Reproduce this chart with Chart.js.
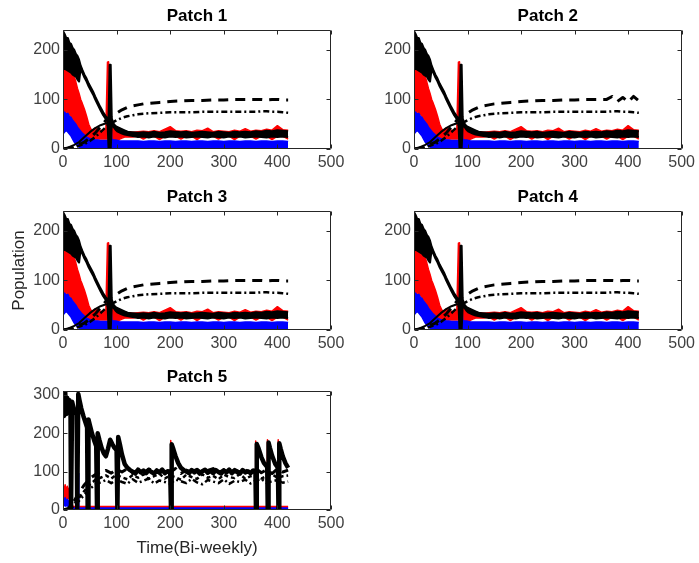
<!DOCTYPE html>
<html>
<head>
<meta charset="utf-8">
<script src="https://cdn.jsdelivr.net/npm/chart.js@4.4.0/dist/chart.umd.min.js"></script>
<style>
  html, body { margin: 0; padding: 0; background: #fff; }
  #fig { position: relative; width: 699px; height: 563px; overflow: hidden; background: #fff; }
  #fig canvas { position: absolute; }
</style>
</head>
<body>
<div id="fig">
  <canvas id="patch1" width="350" height="181" style="left:0px;top:0px"></canvas>
  <canvas id="patch2" width="349" height="181" style="left:350px;top:0px"></canvas>
  <canvas id="patch3" width="350" height="180" style="left:0px;top:181px"></canvas>
  <canvas id="patch4" width="349" height="180" style="left:350px;top:181px"></canvas>
  <canvas id="patch5" width="350" height="202" style="left:0px;top:361px"></canvas>
</div>
<script>
// ---------- Patches 1-4 (same dynamics) ----------
const timeA = [0,3,6,9,12,15,18,21,24,27,30,33,36,40,44,48,52,56,60,65,70,75,80,83,85,87,89,91,94,98,102,106,110,115,120,125,130,
  140,150,160,170,180,190,200,210,220,230,240,250,260,270,280,290,300,310,320,330,340,350,360,370,380,390,400,410,420];

const blackHiA = [238,232,224,224,214,212,204,200,192,188,180,168,160,150,142,132,124,116,106,95,84,74,66,62,62,170,170,62,52,46,42,40,38,36,35,34,34,
  33,34,33,35,33,34,36,35,34,35,33,34,35,34,33,35,34,33,35,34,35,34,36,35,37,36,38,37,36];
const blackLoA = [160,162,160,158,156,154,150,148,146,140,136,162,154,144,136,126,118,110,100,89,78,68,60,56,0,0,0,50,45,39,35,33,31,29,28,27,26,
  24,25,23,25,24,23,25,24,25,23,24,25,24,23,25,24,23,25,24,25,23,24,25,24,23,25,24,25,24];

const redHiA = [162,160,158,160,156,158,152,146,135,122,112,100,92,80,66,50,40,38,42,40,38,36,40,175,176,60,45,45,44,42,40,38,37,36,35,35,34,
  35,36,35,37,35,40,45,37,36,37,35,38,37,42,35,37,36,35,38,36,41,36,38,37,40,38,47,39,38];
const redLoA = [68,72,75,72,70,66,62,55,50,45,40,36,32,28,24,22,20,20,20,20,20,20,20,20,20,18,18,18,18,18,18,20,22,24,24,24,24,
  26,20,26,26,19,26,26,26,20,26,26,19,26,26,26,20,26,26,19,26,26,26,20,26,26,19,26,26,20];

const blueHiA = [76,74,70,72,66,64,58,54,50,44,40,36,32,28,24,22,20,19,18,18,17,17,17,17,17,50,55,20,18,18,17,16,16,16,16,16,16,
  16,15,16,16,15,16,16,15,16,16,15,16,16,15,16,16,15,16,16,15,16,16,15,16,16,15,16,16,15];
const blueLoA = [30,34,38,34,30,26,20,14,10,6,4,2,1,0,0,0,0,0,0,0,0,0,0,0,0,0,0,0,0,0,0,0,0,0,0,0,0,
  0,0,0,0,0,0,0,0,0,0,0,0,0,0,0,0,0,0,0,0,0,0,0,0,0,0,0,0,0];

const thinTimeA = [0,10,20,30,40,50,60,70,80,90,100,110,120,130,140];
const thinPopA  = [0,3,8,14,24,34,42,48,52,50,45,40,35,32,29];

const dashTimeA  = [0,20,40,50,60,70,80,90,100,110,120,130,140,150,160,180,200,220,240,260,280,300,320,340,360,370,380,390,400,410,420];
const dashUpperA = [0,4,14,22,32,45,58,66,72,79,84,87,89,91,92,94,96,97,98,98,99,99,100,100,100,100,99,100,100,99,99];
const dashUpperB = [0,4,14,22,32,45,58,66,72,79,84,87,89,91,92,94,96,97,98,98,99,99,100,100,100,106,96,104,95,106,97];
const dashDotA   = [0,3,10,16,24,34,44,52,58,63,66,68,70,71,72,73,74,74,74,75,75,75,75,75,75,76,76,75,75,74,73];

// ---------- Patch 5 ----------
const blackTime5 = [0,2,4,6,8,10,12,14,15,16.5,17,20,23,25.5,26.5,27.5,28.5,31,34,38,42,45,46,47,47.5,50,54,58,62,63.5,64.5,65,68,72,76,80,84,88,92,96,100,
  101.5,102.5,103,106,110,115,120,125,130,
  135,140,145,150,155,160,165,170,175,180,185,190,195,200,
  201.5,202.5,203,206,210,215,220,225,230,
  235,240,245,250,255,260,265,270,275,280,285,290,295,300,305,310,315,320,325,330,335,340,345,350,355,359,
  360,361,361.5,365,370,375,381,
  382,383,383.5,386,390,396,401,
  402,403,403.5,406,410,415,420];
const blackPop5 = [305,245,310,250,292,255,286,262,0,0,282,265,255,248,0,0,302,285,265,245,228,215,0,0,236,222,200,182,166,0,0,200,182,162,148,140,160,183,172,162,156,
  0,0,190,172,145,120,110,104,100,
  95,105,98,103,96,104,99,95,103,98,105,96,101,99,
  0,0,171,158,140,122,110,104,100,
  96,104,98,103,95,101,105,97,102,96,104,99,95,103,98,105,96,102,99,95,104,98,101,96,103,100,
  0,0,172,160,138,122,112,
  0,0,176,162,142,120,110,
  0,0,174,160,140,122,110];

const red5Time = [0,2,4,6,8,10,12,14,16,18,20,43.5,44.5,46.5,62,63,65,100,101,103,200,201,203,358.5,359.5,361.5,380.5,381.5,383.5,400.5,401.5,403.5,420];
const red5Hi   = [68,52,66,48,62,46,58,40,22,11,9,9,222,9,9,192,9,9,190,9,9,181,9,9,180,9,9,183,9,9,183,9,9];
const red5Lo   = [26,32,24,30,28,34,26,20,8,5,5,5,5,5,5,5,5,5,5,5,5,5,5,5,5,5,5,5,5,5,5,5,5];

const blue5Time = [0,2,4,6,8,10,12,14,16,18,20,27,28,29.5,45,46,47.5,63.5,64.5,66,420];
const blue5Hi   = [30,24,32,22,28,20,26,18,10,5,5,5,95,5,5,70,5,5,40,5,5];
const blue5Lo   = [12,14,10,12,10,12,8,6,2,0,0,0,0,0,0,0,0,0,0,0,0];

const dashTime5  = [0,10,20,30,40,50,60,70,80,90,100,110,120,130,140,150,160,170,180,190,200,210,220,230,240,250,260,270,280,290,300,310,320,330,340,350,360,370,380,390,400,410,420];
const dashUpper5 = [0,4,22,45,66,82,92,98,103,96,106,99,108,97,104,95,107,101,96,106,98,108,95,104,99,106,96,103,108,97,105,94,106,99,104,96,108,97,105,95,107,99,104];
const dashMid5   = [0,3,15,32,50,66,78,84,90,82,92,85,80,91,84,93,81,88,94,82,90,85,79,92,86,81,93,84,89,80,92,86,83,94,81,88,91,82,89,93,84,88,90];
const dashLow5   = [0,2,10,24,40,55,66,72,78,70,79,73,68,80,71,76,82,69,77,73,68,79,75,70,81,72,67,78,74,70,80,68,76,73,79,69,77,81,70,75,78,71,74];

// ---------- axis ticks ----------
const xTickValues = [0,100,200,300,400,500];
const yTickValuesA = [0,100,200];
const yTickValues5 = [0,100,200,300];

// ---------- helpers ----------
const FONT = "'Liberation Sans', Arial, Helvetica, sans-serif";
const RED = '#ff0000', BLUE = '#0000ff', BLACK = '#000000';

const pts = (t, v) => t.map((x, i) => ({ x: x, y: v[i] }));

function band(t, lo, hi, color, order, width) {
  const common = { borderColor: color, backgroundColor: color, borderWidth: width, pointRadius: 0,
                   borderJoinStyle: 'round', order: order, clip: 0 };
  return [
    Object.assign({ data: pts(t, lo), fill: false }, common),
    Object.assign({ data: pts(t, hi), fill: '-1' }, common)
  ];
}
function line(t, v, color, width, dash, order) {
  return { data: pts(t, v), borderColor: color, borderWidth: width, borderDash: dash || [],
           pointRadius: 0, fill: false, order: order, borderJoinStyle: 'round', clip: 0 };
}

// draws the boxed axes with inward tick marks on all four sides
const boxAxes = {
  id: 'boxAxes',
  afterDatasetsDraw(chart) {
    const { ctx, chartArea: a, scales: { x, y } } = chart;
    const L = Math.round(a.left) + 0.5, R = Math.round(a.right) - 0.5;
    const T = Math.round(a.top) + 0.5, B = Math.round(a.bottom) - 0.5;
    ctx.save();
    ctx.strokeStyle = '#262626';
    ctx.lineWidth = 1;
    ctx.beginPath();
    ctx.rect(L, T, R - L, B - T);
    x.ticks.forEach(tk => {
      const px = Math.round(x.getPixelForValue(tk.value)) + 0.5;
      ctx.moveTo(px, B); ctx.lineTo(px, B - 4);
      ctx.moveTo(px, T); ctx.lineTo(px, T + 4);
    });
    y.ticks.forEach(tk => {
      const py = Math.round(y.getPixelForValue(tk.value)) + 0.5;
      ctx.moveTo(L, py); ctx.lineTo(L + 4, py);
      ctx.moveTo(R, py); ctx.lineTo(R - 4, py);
    });
    ctx.stroke();
    ctx.restore();
  }
};

function makePatch(id, o) {
  const tickFont = { family: FONT, size: 16 };
  new Chart(document.getElementById(id), {
    type: 'line',
    data: { datasets: o.datasets },
    plugins: [boxAxes],
    options: {
      responsive: false, animation: false, devicePixelRatio: 1, events: [],
      layout: { padding: { left: 0, right: o.padRight, top: 0, bottom: 0 } },
      plugins: {
        legend: { display: false }, tooltip: { enabled: false },
        title: { display: true, text: o.title, fullSize: false, color: '#000',
                 font: { family: FONT, size: 17, weight: 'bold', lineHeight: 1.2 },
                 padding: { top: 6, bottom: 3.6 } }
      },
      scales: {
        x: { type: 'linear', min: 0, max: 500,
             afterBuildTicks: s => { s.ticks = xTickValues.map(v => ({ value: v })); },
             afterFit: s => { s.height = o.xHeight; },
             ticks: { color: '#404040', font: tickFont, padding: 4, maxRotation: 0, autoSkip: false },
             grid: { display: false, drawTicks: false }, border: { display: false },
             title: o.xTitle ? { display: true, text: o.xTitle, color: '#262626',
                                 font: { family: FONT, size: 17, lineHeight: 1.2 }, padding: { top: 0, bottom: 4 } }
                             : { display: false } },
        y: { type: 'linear', min: 0, max: o.yMax,
             afterBuildTicks: s => { s.ticks = o.yTicks.map(v => ({ value: v })); },
             afterFit: s => { s.width = o.yWidth; },
             ticks: { color: '#404040', font: tickFont, padding: 3, autoSkip: false },
             grid: { display: false, drawTicks: false }, border: { display: false },
             title: o.yTitle ? { display: true, text: o.yTitle, color: '#262626',
                                 font: { family: FONT, size: 17, lineHeight: 1.2 }, padding: { top: 9, bottom: 0 } }
                             : { display: false } }
      }
    }
  });
}

function datasetsA(upper) {
  return [
    ...band(timeA, blackLoA, blackHiA, BLACK, 0, 2),
    line(thinTimeA, thinPopA, BLACK, 2, null, 1),
    line(dashTimeA, upper, BLACK, 3, [10, 7], 2),
    line(dashTimeA, dashDotA, BLACK, 2.5, [6, 3, 2, 3], 3),
    ...band(timeA, blueLoA, blueHiA, BLUE, 4, 1.5),
    ...band(timeA, redLoA, redHiA, RED, 5, 1.5)
  ];
}

function datasets5() {
  return [
    line(blackTime5, blackPop5, BLACK, 4.5, null, 0),
    line(dashTime5, dashUpper5, BLACK, 3, [9, 6], 1),
    line(dashTime5, dashMid5, BLACK, 2.5, [4, 3], 2),
    line(dashTime5, dashLow5, BLACK, 2.5, [6, 3, 2, 3], 3),
    ...band(blue5Time, blue5Lo, blue5Hi, BLUE, 4, 1.5),
    ...band(red5Time, red5Lo, red5Hi, RED, 5, 1.5)
  ];
}

makePatch('patch1', { title: 'Patch 1', yMax: 240, yTicks: yTickValuesA, yWidth: 63, padRight: 19, xHeight: 32, datasets: datasetsA(dashUpperA) });
makePatch('patch2', { title: 'Patch 2', yMax: 240, yTicks: yTickValuesA, yWidth: 64, padRight: 16, xHeight: 32, datasets: datasetsA(dashUpperB) });
makePatch('patch3', { title: 'Patch 3', yMax: 240, yTicks: yTickValuesA, yWidth: 63, padRight: 19, xHeight: 31, datasets: datasetsA(dashUpperA), yTitle: 'Population' });
makePatch('patch4', { title: 'Patch 4', yMax: 240, yTicks: yTickValuesA, yWidth: 64, padRight: 16, xHeight: 31, datasets: datasetsA(dashUpperA) });
makePatch('patch5', { title: 'Patch 5', yMax: 310, yTicks: yTickValues5, yWidth: 63, padRight: 19, xHeight: 53, datasets: datasets5(), xTitle: 'Time(Bi-weekly)' });
</script>
</body>
</html>
